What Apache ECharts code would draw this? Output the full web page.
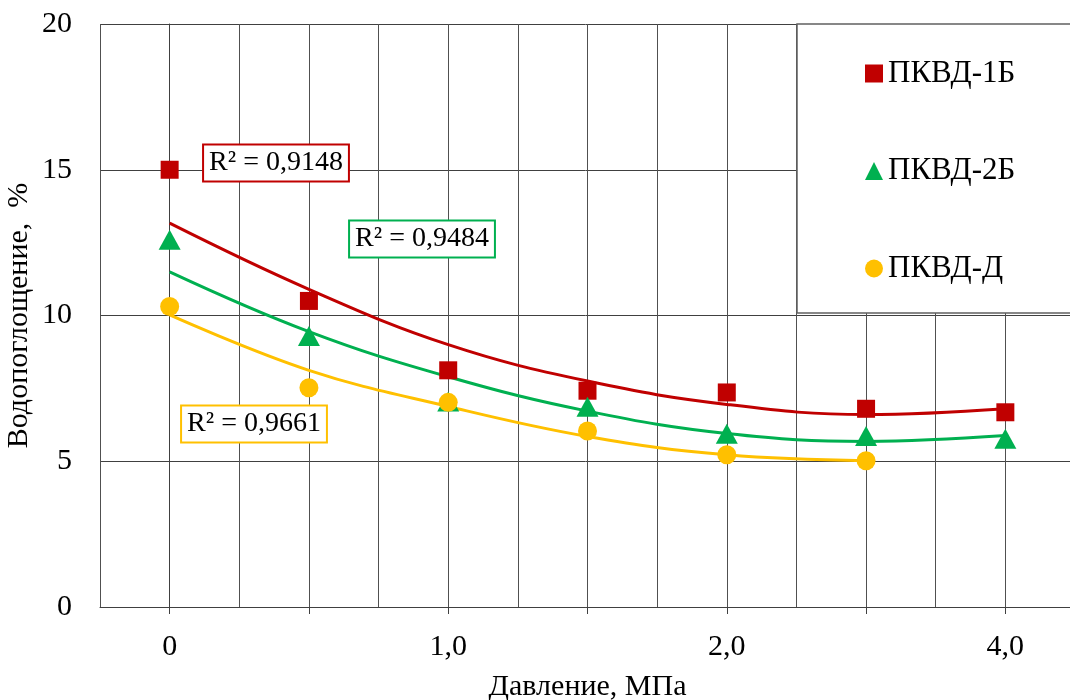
<!DOCTYPE html>
<html>
<head>
<meta charset="utf-8">
<script src="https://cdn.jsdelivr.net/npm/echarts@6/dist/echarts.min.js"></script>
<style>html,body{margin:0;padding:0;background:#fff}#c{width:1070px;height:700px}</style>
</head>
<body>
<div id="c"></div>
<script>
const categories = ['0', '0,5', '1,0', '1,5', '2,0', '3,0', '4,0'];
const seriesNames = ['ПКВД-1Б', 'ПКВД-2Б', 'ПКВД-Д'];
const red = [15.0, 10.5, 8.12, 7.42, 7.36, 6.8, 6.68];
const green = [12.6, 9.3, 7.05, 6.87, 5.94, 5.87, 5.77];
const yellow = [10.31, 7.52, 7.02, 6.04, 5.22, 5.02, null];
const redTrend = [13.17, 10.9, 9.0, 7.75, 6.95, 6.6, 6.8];
const greenTrend = [11.5, 9.45, 7.9, 6.72, 5.95, 5.68, 5.88];
const yellowTrend = [10.02, 8.12, 6.88, 5.85, 5.22, 5.02, null];
const r2Labels = ['R² = 0,9148', 'R² = 0,9484', 'R² = 0,9661'];
const yTicks = [0, 5, 10, 15, 20];

const FONT = '"Liberation Serif", "Times New Roman", serif';
const colors = ['#C00000', '#00B050', '#FFC000'];
const symbols = ['rect', 'triangle', 'circle'];
const sizes = [18, [22, 20], 19];

const chart = echarts.init(document.getElementById('c'));
const scatterData = [red, green, yellow];
const trendData = [redTrend, greenTrend, yellowTrend];

const series = [];
trendData.forEach((d, i) => {
  series.push({
    type: 'line', data: d, smooth: 0.4, symbol: 'none', silent: true,
    lineStyle: {color: colors[i], width: 3}, z: 3, connectNulls: false
  });
});
scatterData.forEach((d, i) => {
  series.push({
    name: seriesNames[i], type: 'scatter', data: d, symbol: symbols[i], symbolSize: sizes[i],
    itemStyle: {color: colors[i], opacity: 1}, z: 4 + i
  });
});

const labelPos = [[276, 163], [422, 239], [254, 424]];
const graphics = [{
  type: 'rect', shape: {x: 797, y: 24, width: 300, height: 289}, z: 1,
  style: {fill: '#fff', stroke: '#606060', lineWidth: 1.5}
}];
r2Labels.forEach((t, i) => {
  graphics.push({
    type: 'text', x: labelPos[i][0], y: labelPos[i][1], z: 10,
    style: {
      text: t, font: '28px ' + FONT, fill: '#000', align: 'center', verticalAlign: 'middle',
      backgroundColor: '#fff', borderColor: colors[i], borderWidth: 2, padding: [4, 5, 3, 5]
    }
  });
});

chart.setOption({
  animation: false,
  backgroundColor: '#fff',
  textStyle: {fontFamily: FONT},
  grid: {left: 100, top: 24, width: 975, height: 583, containLabel: false, outerBoundsMode: 'none'},
  legend: {
    data: seriesNames.map((n, i) => ({name: n, icon: symbols[i]})),
    orient: 'vertical', left: 860, top: 53, itemWidth: 18, itemHeight: 18, itemGap: 66.5,
    textStyle: {fontSize: 31, fontFamily: FONT, color: '#000', lineHeight: 30},
    selectedMode: false, z: 20
  },
  xAxis: [{
    type: 'category', data: categories, boundaryGap: true,
    axisLine: {lineStyle: {color: '#404040', width: 1}},
    axisTick: {show: true, alignWithLabel: true, interval: 0, length: 7, lineStyle: {color: '#404040'}},
    axisLabel: {interval: 1, fontSize: 30, fontFamily: FONT, color: '#000', margin: 25},
    splitLine: {show: false},
    name: 'Давление, МПа', nameLocation: 'middle', nameGap: 65, nameMoveOverlap: false,
    nameTextStyle: {fontSize: 30, fontFamily: FONT, color: '#000'}
  }, {
    type: 'value', min: -0.5, max: 6.5, interval: 0.5, position: 'bottom',
    axisLine: {show: false}, axisTick: {show: false}, axisLabel: {show: false},
    splitLine: {show: true, lineStyle: {color: '#505050', width: 1}}
  }],
  yAxis: {
    type: 'value', min: 0, max: 20, interval: 5,
    axisLine: {show: true, lineStyle: {color: '#404040', width: 1}},
    axisTick: {show: true, inside: false, length: 9, lineStyle: {color: '#404040'}},
    axisLabel: {fontSize: 30, fontFamily: FONT, color: '#000', margin: 28},
    splitLine: {show: true, lineStyle: {color: '#404040', width: 1}},
    name: 'Водопоглощение,  %', nameLocation: 'middle', nameGap: 66, nameRotate: 90, nameMoveOverlap: false,
    nameTextStyle: {fontSize: 30, fontFamily: FONT, color: '#000'}
  },
  graphic: graphics,
  series: series
});
</script>
</body>
</html>
